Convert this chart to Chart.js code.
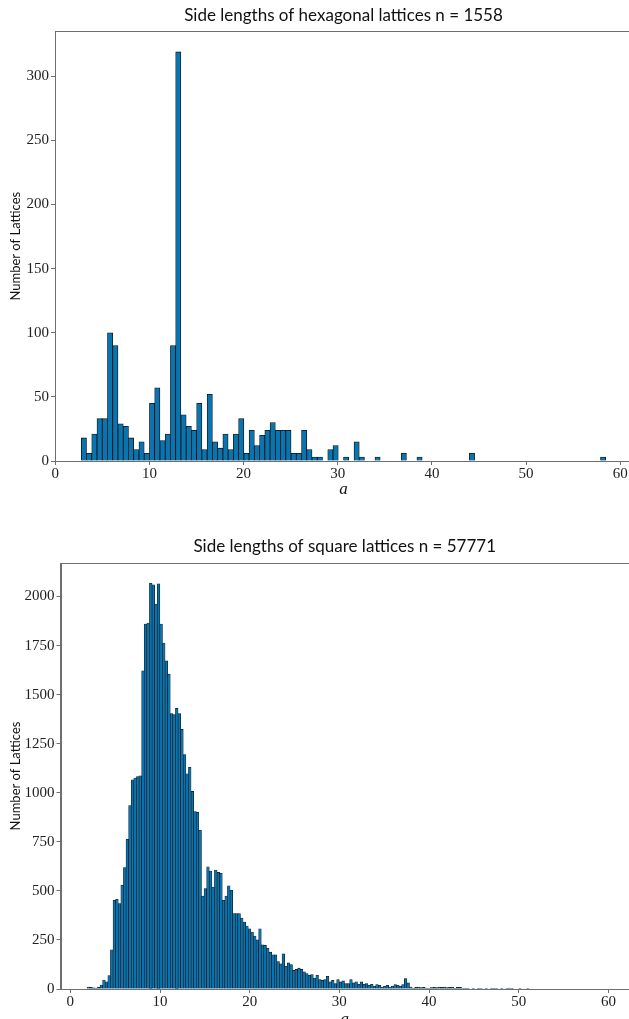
<!DOCTYPE html>
<html>
<head>
<meta charset="utf-8">
<script src="https://cdn.jsdelivr.net/npm/chart.js@4/dist/chart.umd.min.js"></script>
<style>
    html, body { margin: 0; padding: 0; background: #fff; width: 629px; height: 1019px; overflow: hidden; }
    .box { position: absolute; left: 0; width: 640px; }
    #hexBox { top: 0; height: 500px; }
    #sqBox { top: 520px; height: 510px; }
</style>
</head>
<body>
<div class="box" id="hexBox"><canvas id="hexChart"></canvas></div>
<div class="box" id="sqBox"><canvas id="sqChart"></canvas></div>
<script>
// Hexagonal lattices: 100 equal bins starting at hexStart
const hexStart = 2.76;
const hexWidth = 0.557;
const hexCounts = [
    18, 6, 21, 33, 33, 100, 90, 29, 27, 18,
    9, 15, 6, 45, 57, 16, 21, 90, 319, 36,
    27, 24, 45, 9, 52, 15, 10, 21, 9, 21,
    33, 6, 24, 12, 20, 24, 30, 24, 24, 24,
    6, 6, 24, 9, 3, 3, 0, 9, 12, 0,
    3, 0, 15, 3, 0, 0, 3, 0, 0, 0,
    0, 6, 0, 0, 3, 0, 0, 0, 0, 0,
    0, 0, 0, 0, 6, 0, 0, 0, 0, 0,
    0, 0, 0, 0, 0, 0, 0, 0, 0, 0,
    0, 0, 0, 0, 0, 0, 0, 0, 0, 3
];
const hexYTicks = [0, 50, 100, 150, 200, 250, 300];

// Square lattices: equal bins starting at sqStart
const sqStart = 1.86;
const sqWidth = 0.29;
const sqCounts = [
    10, 8, 6, 5, 8, 20, 46, 37, 68, 200,
    452, 457, 435, 529, 619, 763, 935, 1066, 1075, 1082,
    1087, 1621, 1860, 1865, 2068, 2060, 1962, 2065, 1860, 1763,
    1672, 1604, 1403, 1399, 1430, 1403, 1323, 1195, 1097, 1130,
    1007, 904, 901, 809, 474, 512, 623, 601, 520, 606,
    594, 590, 452, 474, 526, 503, 384, 384, 384, 362,
    341, 321, 307, 290, 270, 250, 307, 225, 222, 208,
    188, 174, 174, 140, 128, 179, 116, 133, 125, 95,
    100, 106, 100, 87, 78, 70, 73, 56, 70, 48,
    44, 48, 65, 36, 44, 27, 48, 36, 41, 27,
    27, 48, 31, 36, 24, 36, 24, 27, 19, 24,
    15, 22, 19, 10, 14, 19, 10, 15, 22, 19,
    15, 22, 53, 31, 10, 5, 8, 10, 7, 8,
    5, 3, 7, 8, 7, 10, 8, 10, 7, 8,
    10, 3, 8, 8, 3, 2, 1, 0, 1, 0,
    4, 3, 0, 1, 0, 3, 4, 3, 0, 1,
    0, 4, 5, 1, 0, 0, 1, 0, 0, 3
];
const sqYTicks = [0, 250, 500, 750, 1000, 1250, 1500, 1750, 2000];

const xTicks = [0, 10, 20, 30, 40, 50, 60];

const AXIS_GREY = '#6f6f6f';
const BAR_BLUE = '#0a74b0';

// matplotlib-style box around the plot area
const framePlugin = {
    id: 'frame',
    afterDatasetsDraw(chart) {
        const { ctx, chartArea: a } = chart;
        ctx.save();
        ctx.strokeStyle = AXIS_GREY;
        ctx.lineWidth = 1;
        ctx.strokeRect(Math.round(a.left) + 0.5, Math.round(a.top) + 0.5,
            Math.round(a.right - a.left), Math.round(a.bottom - a.top));
        ctx.restore();
    }
};

function renderHistogram(opts) {
    const points = opts.counts.map((c, i) => ({ x: opts.start + (i + 0.5) * opts.width, y: c }));

    return new Chart(document.getElementById(opts.canvasId), {
        type: 'bar',
        data: {
            datasets: [{
                data: points,
                backgroundColor: BAR_BLUE,
                borderColor: '#111',
                borderWidth: opts.edge,
                barPercentage: 1,
                categoryPercentage: 1
            }]
        },
        options: {
            responsive: true,
            maintainAspectRatio: false,
            animation: false,
            layout: { padding: { left: 0, right: opts.padRight, top: 0, bottom: 0 } },
            plugins: {
                legend: { display: false },
                tooltip: { enabled: false },
                title: {
                    display: true,
                    text: opts.title,
                    fullSize: false,
                    color: '#111',
                    font: { family: 'Lato, sans-serif', size: 17, weight: 'normal' },
                    padding: opts.titlePad
                }
            },
            scales: {
                x: {
                    type: 'linear',
                    offset: false,
                    min: opts.xMin,
                    max: opts.xMax,
                    afterBuildTicks: s => { s.ticks = xTicks.map(v => ({ value: v })); },
                    afterFit: s => { s.height = opts.xAxisHeight; },
                    grid: { display: true, offset: false, drawOnChartArea: false, drawTicks: true, tickLength: 4, color: AXIS_GREY },
                    border: { display: true, color: AXIS_GREY },
                    ticks: {
                        color: '#222',
                        padding: 0,
                        maxRotation: 0,
                        font: { family: '"Liberation Serif", serif', size: 15 },
                        callback: v => String(v)
                    },
                    title: {
                        display: true,
                        text: 'a',
                        color: '#111',
                        padding: { top: 0, bottom: 0 },
                        font: { family: '"Liberation Serif", serif', size: 17, style: 'italic' }
                    }
                },
                y: {
                    min: 0,
                    max: opts.yMax,
                    afterBuildTicks: s => { s.ticks = opts.yTicks.map(v => ({ value: v })); },
                    afterFit: s => { s.width = opts.yAxisWidth; },
                    grid: { display: true, drawOnChartArea: false, drawTicks: true, tickLength: 4, color: AXIS_GREY },
                    border: { display: true, color: AXIS_GREY },
                    ticks: {
                        color: '#222',
                        padding: 2,
                        font: { family: '"Liberation Serif", serif', size: 15 },
                        callback: v => String(v)
                    },
                    title: {
                        display: true,
                        text: 'Number of Lattices',
                        color: '#111',
                        padding: { top: 8, bottom: 0 },
                        font: { family: 'Lato, sans-serif', size: 13 }
                    }
                }
            }
        },
        plugins: [framePlugin]
    });
}

renderHistogram({
    canvasId: 'hexChart',
    title: 'Side lengths of hexagonal lattices n = 1558',
    counts: hexCounts,
    start: hexStart,
    width: hexWidth,
    xMin: -0.03,
    xMax: 61.25,
    yMax: 335,
    yTicks: hexYTicks,
    yAxisWidth: 55,
    xAxisHeight: 39,
    padRight: 8,
    titlePad: { top: 5, bottom: 6 },
    edge: 0.8
});

renderHistogram({
    canvasId: 'sqChart',
    title: 'Side lengths of square lattices n = 57771',
    counts: sqCounts,
    start: sqStart,
    width: sqWidth,
    xMin: -1.1,
    xMax: 62.3,
    yMax: 2171,
    yTicks: sqYTicks,
    yAxisWidth: 60.5,
    xAxisHeight: 41,
    padRight: 11,
    titlePad: { top: 16, bottom: 6.6 },
    edge: 0.6
});
</script>
</body>
</html>
